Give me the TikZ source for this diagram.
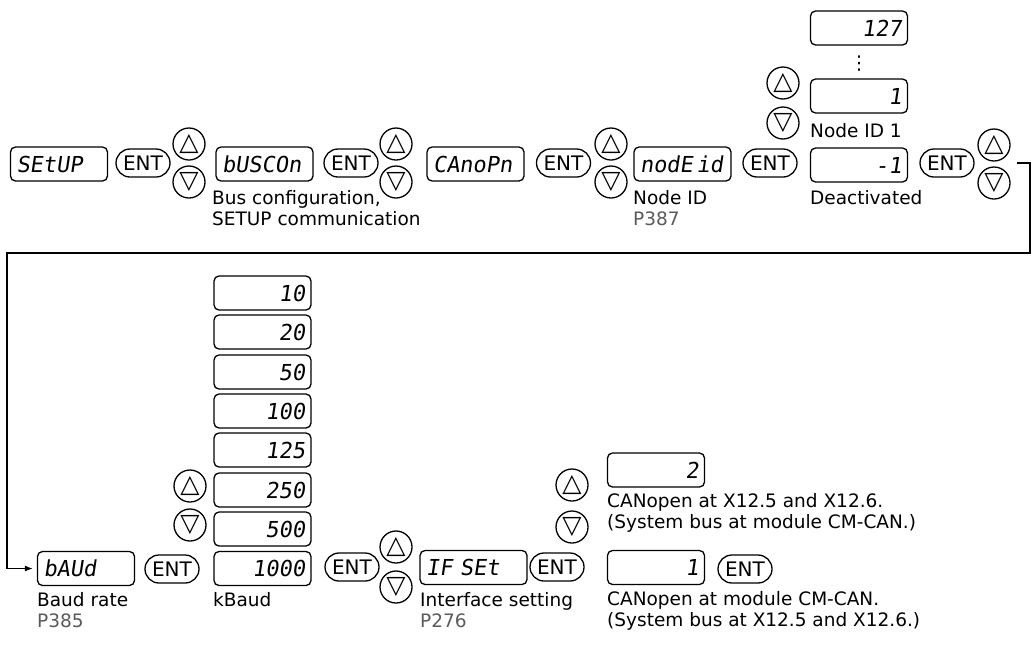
\documentclass[tikz,border=0pt]{standalone}
\usepackage{fontspec}
\setmainfont{DejaVu Sans}
\newfontfamily\segfont[FakeSlant=0.15]{DejaVu Sans Mono}
\usepackage{tikz}
\usetikzlibrary{arrows.meta,positioning}
\definecolor{pagegray}{HTML}{5A5A5A}

\tikzset{
  disp/.style={draw, rounded corners=5pt, line width=1.3pt, minimum height=34pt,
    inner xsep=6pt, inner ysep=0pt, text width=85pt,
    font=\segfont\fontsize{22}{22}\selectfont},
  dispL/.style={disp, align=left},
  dispR/.style={disp, align=right},
  entkey/.style={draw, rounded corners=14pt, line width=1.3pt, minimum width=54pt,
    minimum height=28pt, inner sep=0pt, font=\fontsize{20}{20}\selectfont},
  arrkey/.style={draw, circle, line width=1.3pt, minimum size=32pt, inner sep=0pt,
    font=\fontsize{25}{25}\selectfont},
  lbl/.style={anchor=north west, inner sep=0pt, align=left,
    font=\fontsize{18.5}{21}\selectfont},
}

\begin{document}
\begin{tikzpicture}[x=1pt, y=-1pt]
  \useasboundingbox (0,0) rectangle (1032,646);

  % top row
  \node[dispL] (setup) at (59,164) {SEtUP};
  \node[entkey] (ent1) at (143,163) {ENT};
  \node[arrkey] (up1) at (189,144) {△};
  \node[arrkey] (dn1) at (189,182) {▽};

  \node[dispL] (buscon) at (264.5,164) {bUSCOn};
  \node[lbl] (busconL) at (212,190) {Bus configuration,\\SETUP communication};
  \node[entkey] (ent2) at (351,163) {ENT};
  \node[arrkey] (up2) at (396,144) {△};
  \node[arrkey] (dn2) at (396,182) {▽};

  \node[dispL] (canopn) at (475.5,164) {CAnoPn};
  \node[entkey] (ent3) at (563.5,163) {ENT};
  \node[arrkey] (up3) at (611,144) {△};
  \node[arrkey] (dn3) at (611,182) {▽};

  \node[dispL] (nodeid) at (682.5,164) {nodE\,id};
  \node[lbl] (nodeidL) at (633,190) {Node ID\\\textcolor{pagegray}{P387}};
  \node[entkey] (ent4) at (770,163) {ENT};

  % node id values
  \node[dispR] (nid127) at (859,28) {127};
  \node[inner sep=0pt, font=\fontsize{19}{19}\selectfont] (dots) at (859,64) {⋮};
  \node[dispR] (nid1) at (859,96) {1};
  \node[lbl] (nid1L) at (810,123) {Node ID 1};
  \node[arrkey] (up4) at (783,83) {△};
  \node[arrkey] (dn4) at (783,123) {▽};
  \node[dispR] (nid0) at (859,165) {-1};
  \node[lbl] (nid0L) at (810,190) {Deactivated};

  \node[entkey] (ent5) at (947,163) {ENT};
  \node[arrkey] (up5) at (994,145) {△};
  \node[arrkey] (dn5) at (994,183) {▽};

  % bottom row
  \node[dispL] (baud) at (86,568.5) {bAUd};
  \node[lbl] (baudL) at (37,592) {Baud rate\\\textcolor{pagegray}{P385}};
  \node[entkey] (ent6) at (172,569) {ENT};
  \node[arrkey] (up6) at (190,486) {△};
  \node[arrkey] (dn6) at (190,525) {▽};

  \node[dispR] (kb10) at (262.5,293) {10};
  \node[dispR] (kb20) at (262.5,332) {20};
  \node[dispR] (kb50) at (262.5,372) {50};
  \node[dispR] (kb100) at (262.5,411) {100};
  \node[dispR] (kb125) at (262.5,450) {125};
  \node[dispR] (kb250) at (262.5,490) {250};
  \node[dispR] (kb500) at (262.5,529) {500};
  \node[dispR] (kb1000) at (262.5,568.5) {1000};
  \node[lbl] (kbL) at (213,592) {kBaud};
  \node[entkey] (ent7) at (352,567) {ENT};
  \node[arrkey] (up7) at (396,547) {△};
  \node[arrkey] (dn7) at (396,587) {▽};

  \node[dispL, text width=95pt] (ifset) at (473.5,567.5) {IF SEt};
  \node[lbl] (ifsetL) at (420,592) {Interface setting\\\textcolor{pagegray}{P276}};
  \node[entkey] (ent8) at (557,567) {ENT};
  \node[arrkey] (up8) at (572,485) {△};
  \node[arrkey] (dn8) at (572,527) {▽};

  \node[dispR] (if2) at (656,470) {2};
  \node[lbl] (if2L) at (607,493) {CANopen at X12.5 and X12.6.\\(System bus at module CM-CAN.)};
  \node[dispR] (if1) at (656,567.5) {1};
  \node[entkey] (ent9) at (745,569) {ENT};
  \node[lbl] (if1L) at (607,591) {CANopen at module CM-CAN.\\(System bus at X12.5 and X12.6.)};

  % return line
  \coordinate (ret) at (1017,163);
  \draw[line width=1.3pt, -{Latex[length=8pt,width=6pt]}]
    (ret) -| (1030,253) -| (7,568.5) -- ([xshift=-4pt]baud.west);
\end{tikzpicture}
\end{document}
